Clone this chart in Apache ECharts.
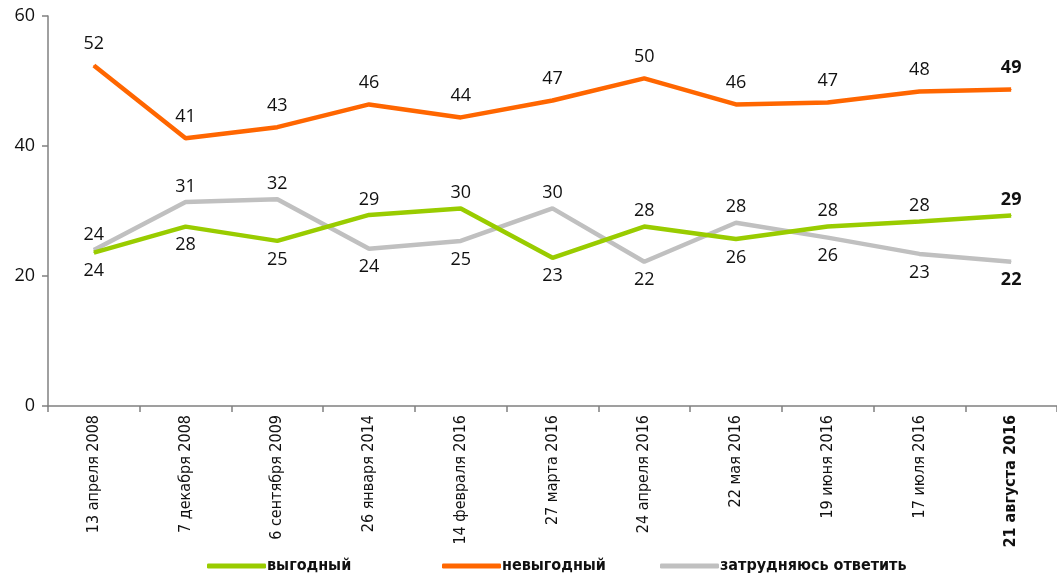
<!DOCTYPE html>
<html>
<head>
<meta charset="utf-8">
<script src="https://cdn.jsdelivr.net/npm/echarts@6/dist/echarts.min.js"></script>
<style>
html,body{margin:0;padding:0;background:#fff;}
#chart{width:1057px;height:577px;}
</style>
</head>
<body>
<div id="chart"></div>
<script>
var categories = ['13 апреля 2008','7 декабря 2008','6 сентября 2009','26 января 2014','14 февраля 2016','27 марта 2016','24 апреля 2016','22 мая 2016','19 июня 2016','17 июля 2016','21 августа 2016'];
var favorable = [23.6, 27.6, 25.4, 29.4, 30.4, 22.8, 27.6, 25.7, 27.6, 28.4, 29.3];
var unfavorable = [52.4, 41.2, 42.9, 46.4, 44.4, 47.0, 50.4, 46.4, 46.7, 48.4, 48.7];
var undecided = [24.0, 31.4, 31.8, 24.2, 25.4, 30.4, 22.2, 28.2, 25.9, 23.4, 22.2];
var seriesNames = ['выгодный','невыгодный','затрудняюсь ответить'];
var yTicks = [0, 20, 40, 60];

var labelFont = "'Open Sans', sans-serif";
var narrowFont = "'Liberation Sans Narrow', 'DejaVu Sans Condensed', sans-serif";
var last = categories.length - 1;

function buildData(values, other, forceTop) {
  return values.map(function (v, i) {
    var above = forceTop || v >= other[i];
    return {
      value: v,
      label: {
        show: true,
        position: above ? 'top' : 'bottom',
        distance: forceTop ? 12 : (above ? 6 : 9),
        fontWeight: i === last ? 'bold' : 'normal'
      }
    };
  });
}

var baseLabel = {
  show: true,
  fontFamily: labelFont,
  fontSize: 18,
  color: '#111',
  formatter: function (p) { return Math.round(p.value); }
};

function makeSeries(k, values, other, forceTop, color, z) {
  return {
    name: seriesNames[k], type: 'line', data: buildData(values, other, forceTop),
    symbol: 'circle', symbolSize: 1, showSymbol: true,
    lineStyle: { color: color, width: 4.5 }, itemStyle: { color: color },
    label: baseLabel, z: z
  };
}

var chart = echarts.init(document.getElementById('chart'));
chart.setOption({
  animation: false,
  grid: { left: 48, top: 16, width: 1013, height: 390, containLabel: false },
  xAxis: {
    type: 'category',
    data: categories,
    boundaryGap: true,
    axisLine: { lineStyle: { color: '#808080', width: 1.5 } },
    axisTick: { show: true, interval: 0, length: 6, lineStyle: { color: '#808080', width: 1.5 } },
    axisLabel: {
      interval: 0,
      rotate: 90,
      margin: 9,
      fontFamily: narrowFont,
      fontSize: 16,
      color: '#111',
      formatter: function (v, i) { return i === last ? '{b|' + v + '}' : v; },
      rich: { b: { fontWeight: 'bold', fontFamily: narrowFont, fontSize: 16, color: '#111' } }
    }
  },
  yAxis: {
    type: 'value',
    min: yTicks[0],
    max: yTicks[yTicks.length - 1],
    interval: yTicks[1] - yTicks[0],
    splitLine: { show: false },
    axisLine: { show: true, lineStyle: { color: '#808080', width: 1.5 } },
    axisTick: { show: true, length: 6, lineStyle: { color: '#808080', width: 1.5 } },
    axisLabel: { margin: 13, fontFamily: labelFont, fontSize: 18, color: '#111' }
  },
  legend: [0, 1, 2].map(function (k) {
    return {
      data: [seriesNames[k]],
      left: [202, 437, 655][k],
      top: 553,
      icon: 'roundRect',
      itemWidth: 59,
      itemHeight: 5,
      itemGap: 0,
      textStyle: { fontFamily: narrowFont, fontSize: 16, fontWeight: 'bold', color: '#111', padding: [0, 0, 0, -4] }
    };
  }),
  series: [
    makeSeries(0, favorable, undecided, false, '#99CC00', 3),
    makeSeries(1, unfavorable, favorable, true, '#FF6600', 3),
    makeSeries(2, undecided, favorable, false, '#C0C0C0', 2)
  ]
});
</script>
</body>
</html>
